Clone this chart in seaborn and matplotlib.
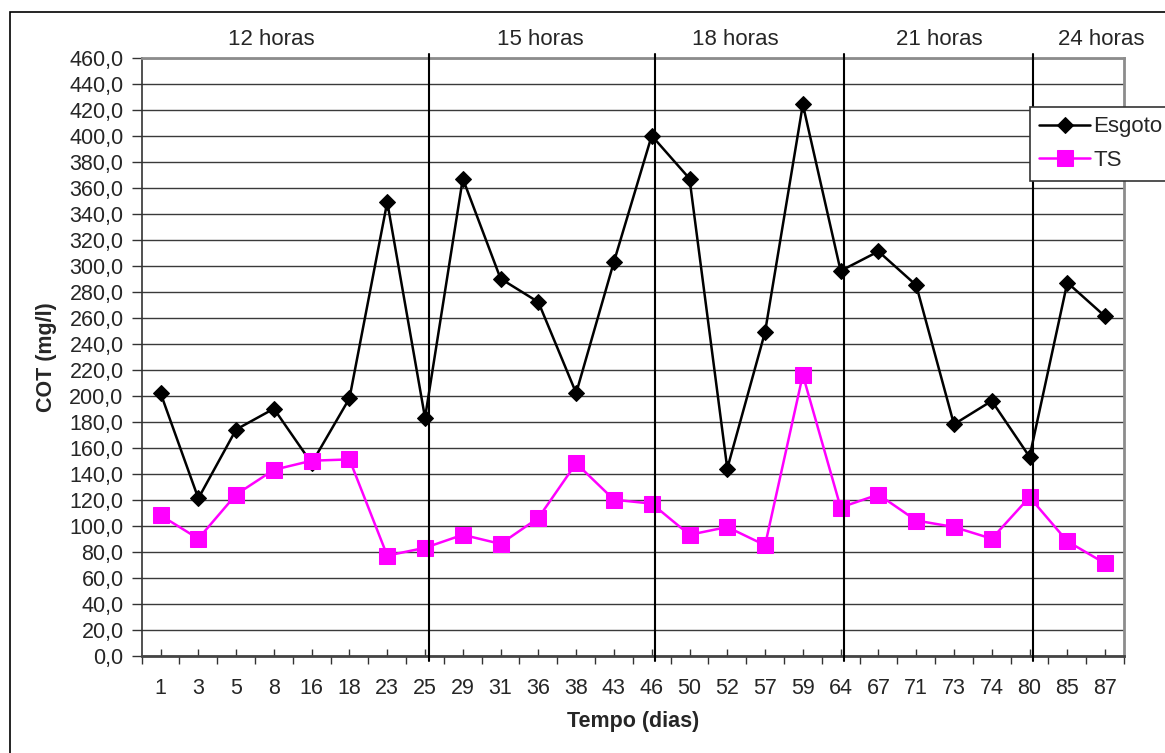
import matplotlib
matplotlib.use("Agg")
import matplotlib.pyplot as plt
import matplotlib.ticker as mticker
from matplotlib.patches import Rectangle
import seaborn as sns
import pandas as pd

dias = ["1", "3", "5", "8", "16", "18", "23", "25", "29", "31", "36", "38", "43",
        "46", "50", "52", "57", "59", "64", "67", "71", "73", "74", "80", "85", "87"]
esgoto = [202, 121, 174, 190, 148, 198, 349, 183, 367, 290, 272, 202, 303,
          400, 367, 144, 249, 424, 296, 311, 285, 178, 196, 153, 287, 261]
ts = [108, 90, 124, 143, 150, 151, 77, 83, 93, 86, 106, 148, 120,
      117, 93, 99, 85, 216, 114, 124, 104, 99, 90, 122, 88, 71]

grupos = ["12 horas", "15 horas", "18 horas", "21 horas", "24 horas"]
grupo_pos = [2.94, 10.06, 15.2, 20.6, 24.9]
divisoes = ["25", "46", "64", "80"]

sns.set_theme(style="white")
plt.rcParams["font.family"] = ["Liberation Sans", "DejaVu Sans"]

df = pd.DataFrame({"dia": dias, "Esgoto": esgoto, "TS": ts})

fig = plt.figure(figsize=(11.65, 7.53), dpi=100)
ax = fig.add_axes([0.1216, 0.1292, 0.8432, 0.7942])

sns.lineplot(data=df, x="dia", y="Esgoto", ax=ax, color="black", lw=1.8,
             marker="D", markersize=8.5, markeredgecolor="black", label="Esgoto",
             sort=False)
sns.lineplot(data=df, x="dia", y="TS", ax=ax, color="#ff00ff", lw=1.8,
             marker="s", markersize=11, markeredgecolor="#ff00ff", label="TS",
             sort=False)

ax.set_xlim(-0.5, len(dias) - 0.5)
ax.set_ylim(0, 460)
ax.yaxis.set_major_locator(mticker.MultipleLocator(20))
ax.yaxis.set_major_formatter(mticker.FuncFormatter(lambda v, p: f"{v:.1f}".replace(".", ",")))
ax.grid(axis="y", color="#3a3a3a", lw=1.0)
ax.grid(axis="x", visible=False)
ax.set_axisbelow(True)

ax.xaxis.set_minor_locator(mticker.FixedLocator([i - 0.5 for i in range(len(dias) + 1)]))
ax.tick_params(axis="x", which="major", direction="in", length=5, width=1,
               color="#333333", pad=16, labelsize=15.5, bottom=True)
ax.tick_params(axis="x", which="minor", direction="out", length=6, width=1,
               color="#333333", bottom=True)
ax.tick_params(axis="y", which="major", direction="out", length=7, width=1,
               color="#333333", pad=6, labelsize=15.5, left=True)

for s in ["top", "right"]:
    ax.spines[s].set_color("#8c8c8c")
    ax.spines[s].set_linewidth(2)
ax.spines["left"].set_color("#333333")
ax.spines["left"].set_linewidth(1.2)
ax.spines["bottom"].set_color("#444444")
ax.spines["bottom"].set_linewidth(2)

for d in divisoes:
    xi = dias.index(d) + 0.1
    ax.plot([xi, xi], [-4, 463], color="black", lw=1.5, clip_on=False, zorder=3)

for g, xp in zip(grupos, grupo_pos):
    ax.text(xp, 1.0296, g, transform=ax.get_xaxis_transform(), ha="center",
            va="center", fontsize=16)

ax.set_xlabel("Tempo (dias)", fontsize=15.5, fontweight="bold", labelpad=9)
ax.set_ylabel("COT (mg/l)", fontsize=15.5, fontweight="bold", labelpad=9)

ax.get_legend().remove()
h, l = ax.get_legend_handles_labels()
leg = fig.legend(h, l, loc="upper left", bbox_to_anchor=(1030 / 1165, 1 - 107 / 753),
                 frameon=True, fancybox=False, edgecolor="#333333", fontsize=16,
                 borderaxespad=0, handlelength=2.3, handletextpad=0.12,
                 borderpad=0.42, labelspacing=0.58, framealpha=1)
leg.get_frame().set_linewidth(1.2)

fig.patches.append(Rectangle((10 / 1165, -0.1), 1.2, 1 - 12 / 753 + 0.1,
                             transform=fig.transFigure, fill=False,
                             edgecolor="black", lw=1.2))

fig.savefig("out.png", dpi=100, facecolor="white")
